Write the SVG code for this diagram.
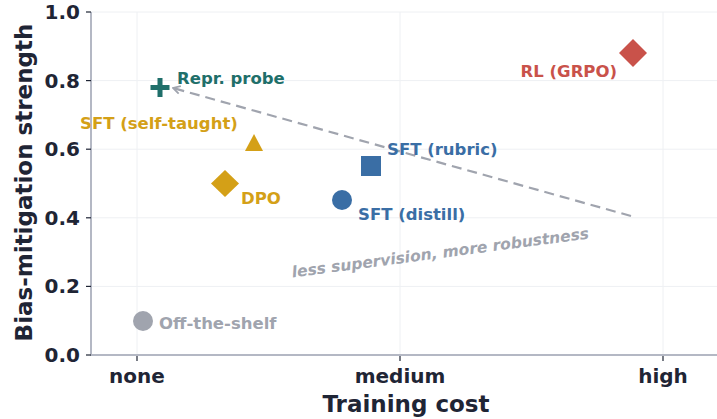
<svg xmlns="http://www.w3.org/2000/svg" width="717" height="419" viewBox="0 0 717 419">
<style>
text{font-family:"DejaVu Sans","Liberation Sans",sans-serif;font-weight:bold}
.tick{font-size:20px;fill:#1f2535}
.grid{stroke:#eef0f3;stroke-width:1}
.spine{stroke:#b4b8c4;stroke-width:2}
.tk{stroke:#1f2535;stroke-width:1.2}
.lbl{font-size:16.5px}
</style>
<defs>
<marker id="ah" markerWidth="10" markerHeight="10" refX="9" refY="5" orient="auto" markerUnits="userSpaceOnUse">
<path d="M2,1 L9,5 L2,9" fill="none" stroke="#a0a4ae" stroke-width="1.8"/>
</marker>
</defs>
<rect width="717" height="419" fill="#fff"/>
<g id="grid">
<line class="grid" x1="137" y1="12" x2="137" y2="355"/>
<line class="grid" x1="400" y1="12" x2="400" y2="355"/>
<line class="grid" x1="663" y1="12" x2="663" y2="355"/>
<line class="grid" x1="91" y1="12" x2="717" y2="12"/>
<line class="grid" x1="91" y1="80.6" x2="717" y2="80.6"/>
<line class="grid" x1="91" y1="149.2" x2="717" y2="149.2"/>
<line class="grid" x1="91" y1="217.8" x2="717" y2="217.8"/>
<line class="grid" x1="91" y1="286.4" x2="717" y2="286.4"/>
</g>
<g id="axes">
<line class="spine" x1="91" y1="12" x2="91" y2="356"/>
<line class="spine" x1="90" y1="355" x2="717" y2="355"/>
<line class="tk" x1="86" y1="12" x2="91" y2="12"/>
<line class="tk" x1="86" y1="80.6" x2="91" y2="80.6"/>
<line class="tk" x1="86" y1="149.2" x2="91" y2="149.2"/>
<line class="tk" x1="86" y1="217.8" x2="91" y2="217.8"/>
<line class="tk" x1="86" y1="286.4" x2="91" y2="286.4"/>
<line class="tk" x1="86" y1="355" x2="91" y2="355"/>
<line class="tk" x1="137" y1="356" x2="137" y2="361"/>
<line class="tk" x1="400" y1="356" x2="400" y2="361"/>
<line class="tk" x1="663" y1="356" x2="663" y2="361"/>
<g class="tick" text-anchor="end">
<text x="80" y="19">1.0</text>
<text x="80" y="88">0.8</text>
<text x="80" y="156">0.6</text>
<text x="80" y="225">0.4</text>
<text x="80" y="293">0.2</text>
<text x="80" y="362">0.0</text>
</g>
<g class="tick" text-anchor="middle">
<text x="137" y="383">none</text>
<text x="400" y="383">medium</text>
<text x="663" y="383">high</text>
</g>
<text x="406" y="412" text-anchor="middle" font-size="23" fill="#1f2535">Training cost</text>
<text transform="translate(32,182.5) rotate(-90)" text-anchor="middle" font-size="23" fill="#1f2535">Bias-mitigation strength</text>
</g>
<g id="connectors">
<line x1="631" y1="216" x2="173" y2="88" stroke="#a0a4ae" stroke-width="2.2" stroke-dasharray="10,6" marker-end="url(#ah)"/>
<text transform="translate(441,258) rotate(-7.5)" text-anchor="middle" font-size="15.5" font-style="italic" fill="#a0a4ae">less supervision, more robustness</text>
</g>
<g id="offshelf">
<circle cx="143" cy="321" r="10" fill="#a0a4ae"/>
<text class="lbl" x="159" y="329" fill="#a0a4ae">Off-the-shelf</text>
</g>
<g id="repr">
<path d="M160,78 V97 M150.5,87.5 H169.5" stroke="#1f6f6a" stroke-width="5"/>
<text class="lbl" x="177" y="84" fill="#1f6f6a">Repr. probe</text>
</g>
<g id="sft-self">
<polygon points="254,134 263,151 245,151" fill="#d4a017"/>
<text class="lbl" x="80" y="129" fill="#d4a017">SFT (self-taught)</text>
</g>
<g id="dpo">
<polygon points="225,170 239,183.5 225,197 211,183.5" fill="#d4a017"/>
<text class="lbl" x="241" y="204" fill="#d4a017">DPO</text>
</g>
<g id="sft-distill">
<circle cx="342" cy="200" r="10" fill="#3a6ea5"/>
<text class="lbl" x="358" y="220" fill="#3a6ea5">SFT (distill)</text>
</g>
<g id="sft-rubric">
<rect x="361" y="156" width="20" height="20" fill="#3a6ea5"/>
<text class="lbl" x="387" y="155" fill="#3a6ea5">SFT (rubric)</text>
</g>
<g id="rl">
<polygon points="633,39 647,53 633,67 619,53" fill="#c9524a"/>
<text class="lbl" x="617" y="77" text-anchor="end" fill="#c9524a">RL (GRPO)</text>
</g>
</svg>
